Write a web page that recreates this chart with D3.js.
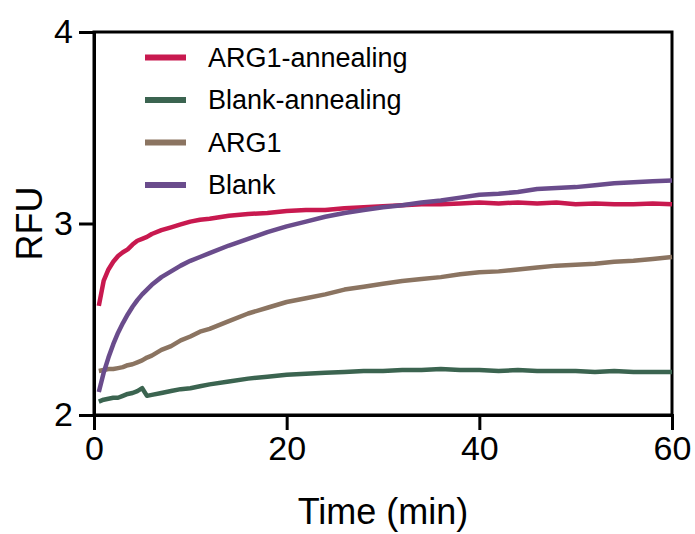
<!DOCTYPE html>
<html>
<head>
<meta charset="utf-8">
<script src="https://cdn.jsdelivr.net/npm/d3@7"></script>
<style>
  html, body { margin: 0; padding: 0; background: #fff; }
  svg { display: block; font-family: "Liberation Sans", Arial, sans-serif; }
</style>
</head>
<body>
<svg id="chart" width="695" height="534"></svg>
<script>
const times = [0.5,1,1.5,2,2.5,3,3.5,4,4.5,5,5.5,6,7,8,9,10,11,12,14,16,18,20,22,24,26,28,30,32,34,36,38,40,42,44,46,48,50,52,54,56,58,60];

const arg1Annealing = [2.57,2.70,2.76,2.80,2.83,2.85,2.865,2.89,2.91,2.92,2.93,2.945,2.965,2.98,2.995,3.01,3.02,3.025,3.04,3.05,3.055,3.065,3.07,3.07,3.08,3.085,3.09,3.095,3.10,3.10,3.105,3.11,3.105,3.11,3.105,3.11,3.10,3.105,3.10,3.10,3.105,3.10];
const blankAnnealing = [2.07,2.08,2.085,2.09,2.09,2.10,2.11,2.115,2.125,2.14,2.10,2.105,2.115,2.125,2.135,2.14,2.15,2.16,2.175,2.19,2.20,2.21,2.215,2.22,2.225,2.23,2.23,2.235,2.235,2.24,2.235,2.235,2.23,2.235,2.23,2.23,2.23,2.225,2.23,2.225,2.225,2.225];
const arg1 = [2.23,2.235,2.24,2.24,2.245,2.25,2.26,2.265,2.275,2.285,2.30,2.31,2.34,2.36,2.39,2.41,2.435,2.45,2.49,2.53,2.56,2.59,2.61,2.63,2.655,2.67,2.685,2.70,2.71,2.72,2.735,2.745,2.75,2.76,2.77,2.78,2.785,2.79,2.80,2.805,2.815,2.825];
const blank = [2.12,2.22,2.30,2.37,2.43,2.48,2.525,2.565,2.60,2.63,2.655,2.68,2.72,2.75,2.78,2.805,2.825,2.845,2.885,2.92,2.955,2.985,3.01,3.035,3.055,3.07,3.085,3.095,3.11,3.12,3.135,3.15,3.155,3.165,3.18,3.185,3.19,3.20,3.21,3.215,3.22,3.225];

const seriesNames = ["ARG1-annealing","Blank-annealing","ARG1","Blank"];
const seriesValues = [arg1Annealing, blankAnnealing, arg1, blank];
const seriesColors = ["#c8194f","#3b6450","#8b7461","#6a4c8c"];

const xTicks = [0,20,40,60];
const yTicks = [2,3,4];
const xTitle = "Time (min)";
const yTitle = "RFU";

const svg = d3.select("#chart");
const mLeft = 94, mRight = 672, mTop = 32, mBottom = 415;

const x = d3.scaleLinear().domain([0,60]).range([mLeft,mRight]);
const y = d3.scaleLinear().domain([2,4]).range([mBottom,mTop]);

// frame
svg.append("rect")
  .attr("x", mLeft).attr("y", mTop)
  .attr("width", mRight-mLeft).attr("height", mBottom-mTop)
  .attr("fill","none").attr("stroke","#000").attr("stroke-width",3);

// lines
const line = d3.line().x(d => x(d[0])).y(d => y(d[1])).curve(d3.curveLinear);
seriesValues.forEach((vals,i) => {
  svg.append("path")
    .datum(times.map((t,j) => [t, vals[j]]))
    .attr("fill","none")
    .attr("stroke", seriesColors[i])
    .attr("stroke-width",4.5)
    .attr("stroke-linejoin","round")
    .attr("stroke-linecap","butt")
    .attr("d", line);
});

// axes
const xAxis = svg.append("g").attr("transform",`translate(0,${mBottom})`)
  .call(d3.axisBottom(x).tickValues(xTicks).tickSize(15).tickPadding(6).tickFormat(d3.format("d")));
const yAxis = svg.append("g").attr("transform",`translate(${mLeft},0)`)
  .call(d3.axisLeft(y).tickValues(yTicks).tickSize(15).tickPadding(6).tickFormat(d3.format("d")));
[xAxis,yAxis].forEach(g => {
  g.select(".domain").attr("stroke","#000").attr("stroke-width",3);
  g.selectAll(".tick line").attr("stroke","#000").attr("stroke-width",3);
  g.selectAll(".tick text").attr("fill","#000")
    .style("font-size","34px").style("font-family","'Liberation Sans', Arial, sans-serif");
});

// titles
svg.append("text")
  .attr("x",(mLeft+mRight)/2).attr("y",524)
  .attr("text-anchor","middle")
  .style("font-size","36px").attr("fill","#000")
  .text(xTitle);
svg.append("text")
  .attr("transform",`translate(42,${(mTop+mBottom)/2}) rotate(-90)`)
  .attr("text-anchor","middle")
  .style("font-size","36px").attr("fill","#000")
  .text(yTitle);

// legend
const leg = svg.append("g");
seriesNames.forEach((name,i) => {
  const ly = 57.5 + i*42.5;
  leg.append("line")
    .attr("x1",145).attr("x2",186).attr("y1",ly).attr("y2",ly)
    .attr("stroke",seriesColors[i]).attr("stroke-width",6);
  leg.append("text")
    .attr("x",208).attr("y",ly).attr("dy","0.35em")
    .style("font-size","27px").attr("fill","#000")
    .text(name);
});
</script>
</body>
</html>
